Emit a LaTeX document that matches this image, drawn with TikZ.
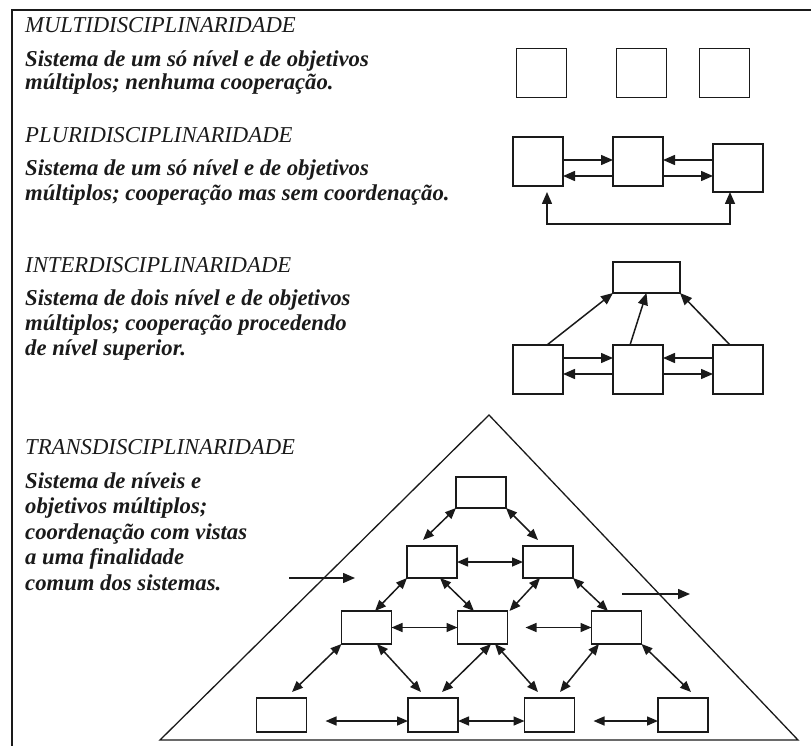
\documentclass[tikz,border=0pt]{standalone}
\usepackage{fontspec}
\setmainfont{Liberation Serif}
\usetikzlibrary{arrows.meta,calc}
\definecolor{ink}{HTML}{1A1A1A}
\begin{document}
\begin{tikzpicture}[x=1pt,y=-1pt,
  bx/.style={draw=ink,line width=1.5pt,inner sep=0pt,outer sep=0pt,minimum width=50pt,minimum height=49pt},
  bxs/.style={bx,minimum height=32pt},
  ttl/.style={anchor=base west,inner sep=0pt,text=ink,font=\fontsize{22.7}{25}\selectfont\itshape},
  dsc/.style={anchor=base west,inner sep=0pt,text=ink,font=\fontsize{22.7}{25}\selectfont\bfseries\itshape},
  arr/.style={draw=ink,line width=1.5pt,-{Triangle[length=12pt,width=10pt]}},
  dbl/.style={draw=ink,line width=1.5pt,{Triangle[length=11pt,width=9pt]}-{Triangle[length=11pt,width=9pt]}},
  frame/.style={draw=ink,line width=1.5pt}]
\useasboundingbox (0,0) rectangle (811,746);
% frame
\coordinate (fbl) at (12,746);
\coordinate (ftl) at (12,10);
\coordinate (ftr) at (811,10);
\draw[frame] (fbl) -- (ftl) -- (ftr);
% texts
\node[ttl] (t1) at (25,32.5) {MULTIDISCIPLINARIDADE};
\node[dsc] (d1a) at (25,67) {Sistema de um só nível e de objetivos};
\node[dsc] (d1b) at (25,90) {múltiplos; nenhuma cooperação.};
\node[ttl] (t2) at (25,142.5) {PLURIDISCIPLINARIDADE};
\node[dsc] (d2a) at (25,176) {Sistema de um só nível e de objetivos};
\node[dsc] (d2b) at (25,201) {múltiplos; cooperação mas sem coordenação.};
\node[ttl] (t3) at (25,272.5) {INTERDISCIPLINARIDADE};
\node[dsc] (d3a) at (25,305) {Sistema de dois nível e de objetivos};
\node[dsc] (d3b) at (25,330) {múltiplos; cooperação procedendo};
\node[dsc] (d3c) at (25,355) {de nível superior.};
\node[ttl] (t4) at (25,454) {TRANSDISCIPLINARIDADE};
\node[dsc] (d4a) at (25,488) {Sistema de níveis e};
\node[dsc] (d4b) at (25,513.5) {objetivos múltiplos;};
\node[dsc] (d4c) at (25,539) {coordenação com vistas};
\node[dsc] (d4d) at (25,564.5) {a uma finalidade};
\node[dsc] (d4e) at (25,590) {comum dos sistemas.};
% multi
\node[bx] (m1) at (541.5,73) {};
\node[bx] (m2) at (641.5,73) {};
\node[bx] (m3) at (724.5,73) {};
% pluri
\node[bx] (pA) at (538,161.5) {};
\node[bx] (pB) at (638,161.5) {};
\node[bx,minimum height=48pt] (pC) at (738,168) {};
\draw[arr] (pA.east |- 0,160) -- (pB.west |- 0,160);
\draw[arr] (pB.west |- 0,176) -- (pA.east |- 0,176);
\draw[arr] (pC.west |- 0,160) -- (pB.east |- 0,160);
\draw[arr] (pB.east |- 0,176) -- (pC.west |- 0,176);
\draw[draw=ink,line width=1.5pt,{Triangle[length=12pt,width=10pt]}-{Triangle[length=12pt,width=10pt]}]
  ($(pA.south)+(9,6)$) -- ++(0,32) -| ($(pC.south)+(-8,0)$);
% inter
\node[bx,minimum width=67pt,minimum height=31pt] (iT) at (646.5,277.5) {};
\node[bx] (iL) at (538,369.5) {};
\node[bx] (iM) at (638,369.5) {};
\node[bx] (iR) at (738,369.5) {};
\draw[arr] (iL.east |- 0,358) -- (iM.west |- 0,358);
\draw[arr] (iM.west |- 0,374) -- (iL.east |- 0,374);
\draw[arr] (iR.west |- 0,358) -- (iM.east |- 0,358);
\draw[arr] (iM.east |- 0,374) -- (iR.west |- 0,374);
\draw[arr] ($(iL.north)+(9,0)$) -- (iT.south west);
\draw[arr] ($(iM.north)+(-8,0)$) -- (iT.south);
\draw[arr] ($(iR.north)+(-8,0)$) -- (iT.south east);
% trans
\coordinate (apex) at (489,415);
\coordinate (tbl) at (160,740);
\coordinate (tbr) at (798,740);
\draw[draw=ink,line width=1.3pt] (apex) -- (tbl) -- (tbr) -- cycle;
\node[bxs,minimum height=31pt] (s1) at (481,492.5) {};
\node[bxs] (s2a) at (432,562) {};
\node[bxs] (s2b) at (548,562) {};
\node[bxs,minimum height=33pt] (s3a) at (366.5,627.5) {};
\node[bxs,minimum height=33pt] (s3b) at (482.5,627.5) {};
\node[bxs,minimum height=33pt] (s3c) at (616.5,627.5) {};
\node[bxs,minimum height=34pt] (s4a) at (281.5,715) {};
\node[bxs,minimum height=34pt] (s4b) at (433,715) {};
\node[bxs,minimum height=34pt] (s4c) at (549.5,715) {};
\node[bxs,minimum height=34pt] (s4d) at (683,715) {};
% horizontal
\draw[dbl] (s2a.east) -- (s2b.west);
\draw[dbl] (s3a.east) -- (s3b.west);
\draw[dbl] ($(s3b.east)+(18,0)$) -- (s3c.west);
\draw[dbl] ($(s4a.east)+(19,6)$) -- ($(s4b.west)+(0,6)$);
\draw[dbl] ($(s4b.east)+(0,6)$) -- ($(s4c.west)+(0,6)$);
\draw[dbl] ($(s4c.east)+(19,6)$) -- ($(s4d.west)+(0,6)$);
% diagonals
\draw[dbl] (s1.south west) -- ($(s2a.north)+(-9,-6)$);
\draw[dbl] (s1.south east) -- ($(s2b.north)+(-10,-6)$);
\draw[dbl] (s2a.south west) -- ($(s3a.north)+(8.5,0)$);
\draw[dbl] ($(s2a.south)+(8,0)$) -- ($(s3b.north)+(-8.5,0)$);
\draw[dbl] ($(s2b.south)+(-8,0)$) -- ($(s3b.north east)+(2,0)$);
\draw[dbl] (s2b.south east) -- ($(s3c.north)+(-8.5,0)$);
\draw[dbl] (s3a.south west) -- ($(s4a.north)+(10.5,-6)$);
\draw[dbl] ($(s3a.south)+(10.5,0)$) -- ($(s4b.north)+(-12,-6)$);
\draw[dbl] ($(s3b.south)+(8.5,0)$) -- ($(s4b.north)+(9,-6)$);
\draw[dbl] ($(s3b.south)+(12.5,0)$) -- ($(s4c.north)+(-11.5,-6)$);
\draw[dbl] ($(s3c.south)+(-17.5,0)$) -- ($(s4c.north)+(10.5,-6)$);
\draw[dbl] (s3c.south east) -- ($(s4d.north)+(8,-6)$);
% entering arrows
\coordinate (inA) at (289,578);
\coordinate (inB) at (355,578);
\coordinate (outA) at (622,594);
\coordinate (outB) at (690,594);
\draw[arr] (inA) -- (inB);
\draw[arr] (outA) -- (outB);
\end{tikzpicture}
\end{document}
